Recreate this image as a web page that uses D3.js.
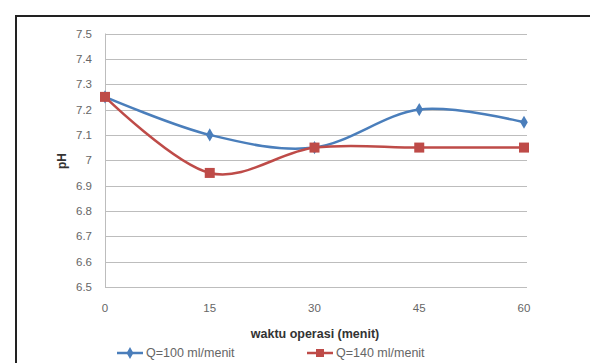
<!DOCTYPE html>
<html>
<head>
<meta charset="utf-8">
<script src="https://cdn.jsdelivr.net/npm/d3@7"></script>
<style>
  html, body { margin: 0; padding: 0; background: #fff; }
  svg { display: block; }
</style>
</head>
<body>
<script>
// pH over operating time for two flow rates
const waktu = [0, 15, 30, 45, 60];
const phQ100 = [7.25, 7.10, 7.05, 7.20, 7.15];
const phQ140 = [7.25, 6.95, 7.05, 7.05, 7.05];
const yTicks = [6.5, 6.6, 6.7, 6.8, 6.9, 7, 7.1, 7.2, 7.3, 7.4, 7.5];
const seriesNames = ["Q=100 ml/menit", "Q=140 ml/menit"];
const colors = ["#4a7ebb", "#be4b48"];

const W = 590, H = 363;
const svg = d3.select("body").append("svg").attr("width", W).attr("height", H);
const font = "'Liberation Sans', Arial, sans-serif";

// chart frame
svg.append("path")
  .attr("d", `M16,${H} L16,16 L${W},16`)
  .attr("fill", "none").attr("stroke", "#222").attr("stroke-width", 2);

const x = d3.scaleLinear().domain([0, 60]).range([105, 524]);
const y = d3.scaleLinear().domain([6.5, 7.5]).range([287, 33.5]);

// horizontal gridlines
svg.append("g").selectAll("line").data(yTicks).join("line")
  .attr("x1", x(0)).attr("x2", x(60) + 3)
  .attr("y1", d => Math.round(y(d)) + 0.5).attr("y2", d => Math.round(y(d)) + 0.5)
  .attr("stroke", "#bdbdbd").attr("stroke-width", 1);

// left axis line
svg.append("line")
  .attr("x1", x(0) + 0.5).attr("x2", x(0) + 0.5)
  .attr("y1", y(7.5)).attr("y2", y(6.5))
  .attr("stroke", "#bdbdbd");

// y tick labels
svg.append("g").selectAll("text").data(yTicks).join("text")
  .attr("x", 92).attr("y", d => y(d) + 4)
  .attr("text-anchor", "end")
  .attr("font-family", font).attr("font-size", 11.5).attr("fill", "#666")
  .text(d => String(d));

// x tick labels
svg.append("g").selectAll("text").data(waktu).join("text")
  .attr("x", d => x(d)).attr("y", 312)
  .attr("text-anchor", "middle")
  .attr("font-family", font).attr("font-size", 11.5).attr("fill", "#666")
  .text(d => String(d));

// axis titles
svg.append("text")
  .attr("x", 315).attr("y", 338).attr("text-anchor", "middle")
  .attr("font-family", font).attr("font-size", 12.5).attr("font-weight", "bold").attr("fill", "#333")
  .text("waktu operasi (menit)");
svg.append("text")
  .attr("transform", "translate(66,161) rotate(-90)").attr("text-anchor", "middle")
  .attr("font-family", font).attr("font-size", 12).attr("font-weight", "bold").attr("fill", "#333")
  .text("pH");

const line = d3.line().x((d, i) => x(waktu[i])).y(d => y(d)).curve(d3.curveCardinal.tension(0));
const seriesData = [phQ100, phQ140];

seriesData.forEach((vals, s) => {
  svg.append("path").datum(vals)
    .attr("d", line)
    .attr("fill", "none").attr("stroke", colors[s]).attr("stroke-width", 2.5);
});

const diamond = d3.symbol().type(d3.symbolDiamond).size(50);
svg.append("g").selectAll("path").data(phQ100).join("path")
  .attr("transform", (d, i) => `translate(${x(waktu[i])},${y(d)})`)
  .attr("d", diamond).attr("fill", colors[0]);
svg.append("g").selectAll("rect").data(phQ140).join("rect")
  .attr("x", (d, i) => x(waktu[i]) - 5).attr("y", d => y(d) - 5)
  .attr("width", 10).attr("height", 10).attr("fill", colors[1]);

// legend
const legendX = [117, 307];
seriesNames.forEach((name, s) => {
  const g = svg.append("g").attr("transform", `translate(${legendX[s]},353)`);
  g.append("line").attr("x1", 0).attr("x2", 26).attr("y1", 0).attr("y2", 0)
    .attr("stroke", colors[s]).attr("stroke-width", 2.5);
  if (s === 0) {
    g.append("path").attr("transform", "translate(13,0)").attr("d", d3.symbol().type(d3.symbolDiamond).size(40)).attr("fill", colors[s]);
  } else {
    g.append("rect").attr("x", 9).attr("y", -4).attr("width", 8).attr("height", 8).attr("fill", colors[s]);
  }
  g.append("text").attr("x", 29).attr("y", 4)
    .attr("font-family", font).attr("font-size", 12.5).attr("fill", "#666")
    .text(name);
});
</script>
</body>
</html>
